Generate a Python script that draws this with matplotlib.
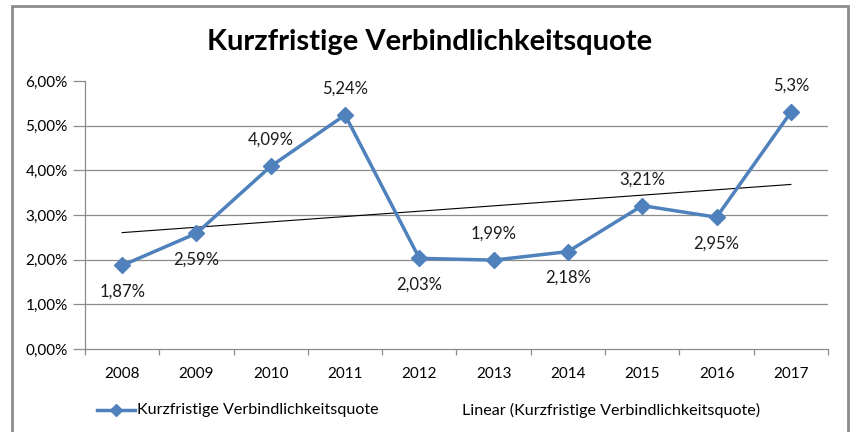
import numpy as np
import matplotlib
matplotlib.use("Agg")
import matplotlib.pyplot as plt
from matplotlib.lines import Line2D
from matplotlib.patches import Rectangle

plt.rcParams['font.family'] = ['Lato', 'DejaVu Sans']

years = ['2008', '2009', '2010', '2011', '2012', '2013', '2014', '2015', '2016', '2017']
quote = [1.87, 2.59, 4.09, 5.24, 2.03, 1.99, 2.18, 3.21, 2.95, 5.3]
label_side = ['below', 'below', 'above', 'above', 'below', 'above', 'below', 'above', 'below', 'above']

blue = '#4F81BD'
grid_grey = '#8C8C8C'

fig = plt.figure(figsize=(8.53, 4.32), dpi=100)
ax = fig.add_axes([85 / 853, 83 / 432, 743 / 853, 268 / 432])

x = np.arange(len(years))
ax.plot(x, quote, color=blue, lw=2.5, marker='D', ms=8.5, zorder=3)

# linear trendline like Excel
slope, inter = np.polyfit(x, quote, 1)
ax.plot(x, slope * x + inter, color='black', lw=0.8, zorder=2)

for xi, v, side in zip(x, quote, label_side):
    txt = f"{v:g}".replace('.', ',') + '%'
    dy = 19 if side == 'above' else -19
    ax.annotate(txt, (xi, v), xytext=(0, dy), textcoords='offset points',
                ha='center', va='center', fontsize=12, color='#1a1a1a')

ax.set_xlim(-0.5, len(years) - 0.5)
ax.set_ylim(0, 6)
ax.set_yticks(np.arange(0, 7, 1))
ax.set_yticklabels([f"{v:.2f}%".replace('.', ',') for v in np.arange(0, 7, 1)])
for yv in range(1, 6):
    ax.axhline(yv, color=grid_grey, lw=0.9, zorder=1)

ax.set_xticks(x)
ax.set_xticklabels(years)
ax.set_xticks(np.arange(-0.5, len(years)), minor=True)
ax.tick_params(axis='x', which='major', length=0, pad=13, labelsize=11)
ax.tick_params(axis='x', which='minor', length=4.5, color=grid_grey, width=0.9)
ax.tick_params(axis='y', length=8.5, color=grid_grey, width=0.9, pad=4, labelsize=11)

for s in ['top', 'right']:
    ax.spines[s].set_visible(False)
for s in ['left', 'bottom']:
    ax.spines[s].set_color(grid_grey)
    ax.spines[s].set_linewidth(0.9)

fig.text(430 / 853, 1 - 42 / 432, 'Kurzfristige Verbindlichkeitsquote',
         ha='center', va='center', fontsize=21, fontweight='bold')

# legend drawn by hand to match the Excel layout
ly = 1 - 410 / 432
fig.add_artist(Line2D([97 / 853, 135 / 853], [ly, ly], color=blue, lw=2.5,
                      transform=fig.transFigure))
fig.add_artist(Line2D([116 / 853], [ly], color=blue, marker='D', ms=6,
                      transform=fig.transFigure))
fig.text(137 / 853, ly, 'Kurzfristige Verbindlichkeitsquote', ha='left', va='center', fontsize=11.6)
fig.text(462 / 853, ly, 'Linear (Kurzfristige Verbindlichkeitsquote)', ha='left', va='center', fontsize=11.6)

fig.patches.append(Rectangle((12 / 853, -0.05), 836 / 853, 1.05 - 6 / 432,
                             transform=fig.transFigure, fill=False,
                             edgecolor='#8C8C8C', lw=2))

fig.savefig('out.png', dpi=100)
